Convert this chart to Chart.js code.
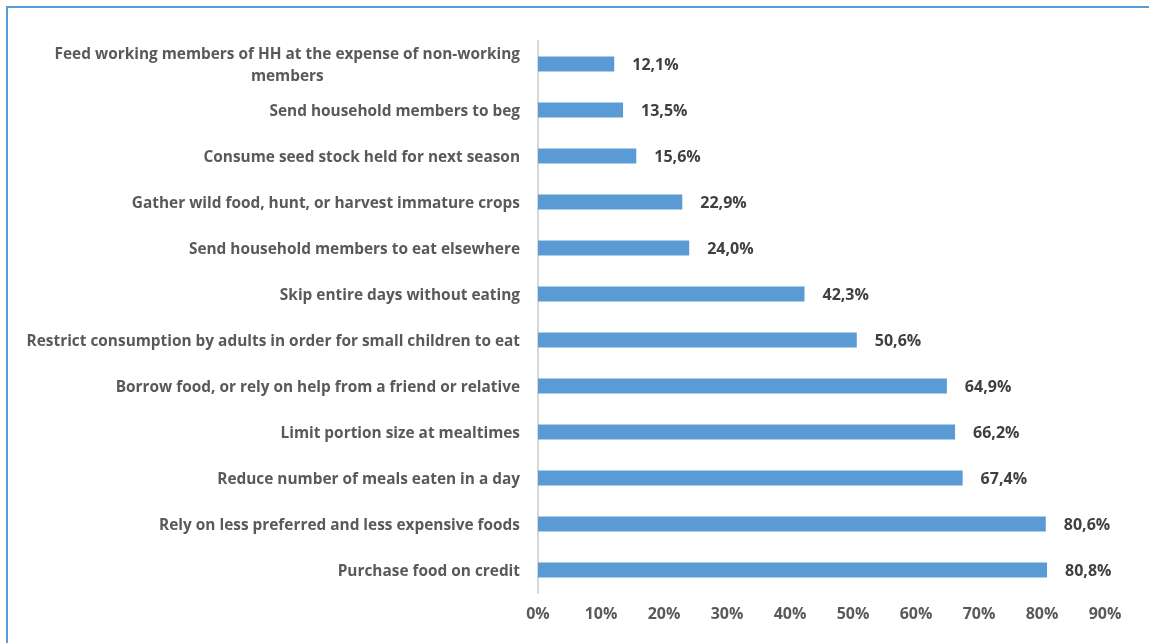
<!DOCTYPE html>
<html>
<head>
<meta charset="utf-8">
<script src="https://cdn.jsdelivr.net/npm/chart.js@4"></script>
<style>
  html, body { margin: 0; padding: 0; background: #fff; overflow: hidden; }
  #wrap { position: relative; width: 1149px; height: 643px; }
  #frame {
    position: absolute; left: 6px; top: 6px; width: 1200px; height: 700px;
    border-left: 2px solid #5b9bd5; border-top: 2px solid #5b9bd5;
  }
  canvas { position: absolute; left: 0; top: 0; }
</style>
</head>
<body>
<div id="wrap">
  <div id="frame"></div>
  <canvas id="chart" width="1149" height="643"></canvas>
</div>
<script>
const strategies = [
  ['Feed working members of HH at the expense of non-working', 'members'],
  'Send household members to beg',
  'Consume seed stock held for next season',
  'Gather wild food, hunt, or harvest immature crops',
  'Send household members to eat elsewhere',
  'Skip entire days without eating',
  'Restrict consumption by adults in order for small children to eat',
  'Borrow food, or rely on help from a friend or relative',
  'Limit portion size at mealtimes',
  'Reduce number of meals eaten in a day',
  'Rely on less preferred and less expensive foods',
  'Purchase food on credit'
];
const shares = [12.1, 13.5, 15.6, 22.9, 24.0, 42.3, 50.6, 64.9, 66.2, 67.4, 80.6, 80.8];
const xTicks = [0, 10, 20, 30, 40, 50, 60, 70, 80, 90];

const FONT = '"Open Sans", "DejaVu Sans", sans-serif';
const pct = v => v.toFixed(1).replace('.', ',') + '%';

// category names drawn by hand so the wrapped one stays centred on itself
const categoryLabels = {
  id: 'categoryLabels',
  afterDraw(chart) {
    const ctx = chart.ctx;
    const y = chart.scales.y;
    ctx.save();
    ctx.font = 'bold 15.4px ' + FONT;
    ctx.fillStyle = '#595959';
    ctx.textBaseline = 'middle';
    ctx.textAlign = 'center';
    strategies.forEach((label, i) => {
      const lines = Array.isArray(label) ? label : [label];
      const cy = y.getPixelForValue(i) + 1.5;
      const right = y.right - 18;
      const block = Math.max(...lines.map(l => ctx.measureText(l).width));
      lines.forEach((l, j) => {
        const ly = cy + (j - (lines.length - 1) / 2) * 22;
        ctx.fillText(l, right - block / 2, ly);
      });
    });
    ctx.restore();
  }
};

// value at the end of each bar
const valueLabels = {
  id: 'valueLabels',
  afterDatasetsDraw(chart) {
    const ctx = chart.ctx;
    const meta = chart.getDatasetMeta(0);
    ctx.save();
    ctx.font = 'bold 16px ' + FONT;
    ctx.fillStyle = '#404040';
    ctx.textAlign = 'left';
    ctx.textBaseline = 'middle';
    meta.data.forEach((bar, i) => {
      ctx.fillText(pct(shares[i]), bar.x + 18, bar.y + 1);
    });
    ctx.restore();
  }
};

new Chart(document.getElementById('chart'), {
  type: 'bar',
  data: {
    labels: strategies,
    datasets: [{
      data: shares,
      backgroundColor: '#5b9bd5',
      borderWidth: 0,
      categoryPercentage: 1,
      barPercentage: 0.33
    }]
  },
  options: {
    indexAxis: 'y',
    responsive: false,
    animation: false,
    events: [],
    layout: { padding: { left: 0, right: 44, top: 41, bottom: 0 } },
    plugins: {
      legend: { display: false },
      tooltip: { enabled: false }
    },
    scales: {
      x: {
        min: 0,
        max: 90,
        afterBuildTicks: scale => { scale.ticks = xTicks.map(v => ({ value: v })); },
        afterFit: scale => { scale.height = 50; },
        grid: { display: false, drawTicks: false },
        border: { display: false },
        ticks: {
          padding: 12,
          color: '#595959',
          font: { family: FONT, size: 16, weight: 'bold' },
          callback: v => v + '%'
        }
      },
      y: {
        afterFit: scale => { scale.width = 538; },
        grid: { display: false, drawTicks: false },
        border: { display: true, color: '#d9d9d9', width: 2 },
        ticks: { display: false }
      }
    }
  },
  plugins: [categoryLabels, valueLabels]
});
</script>
</body>
</html>
